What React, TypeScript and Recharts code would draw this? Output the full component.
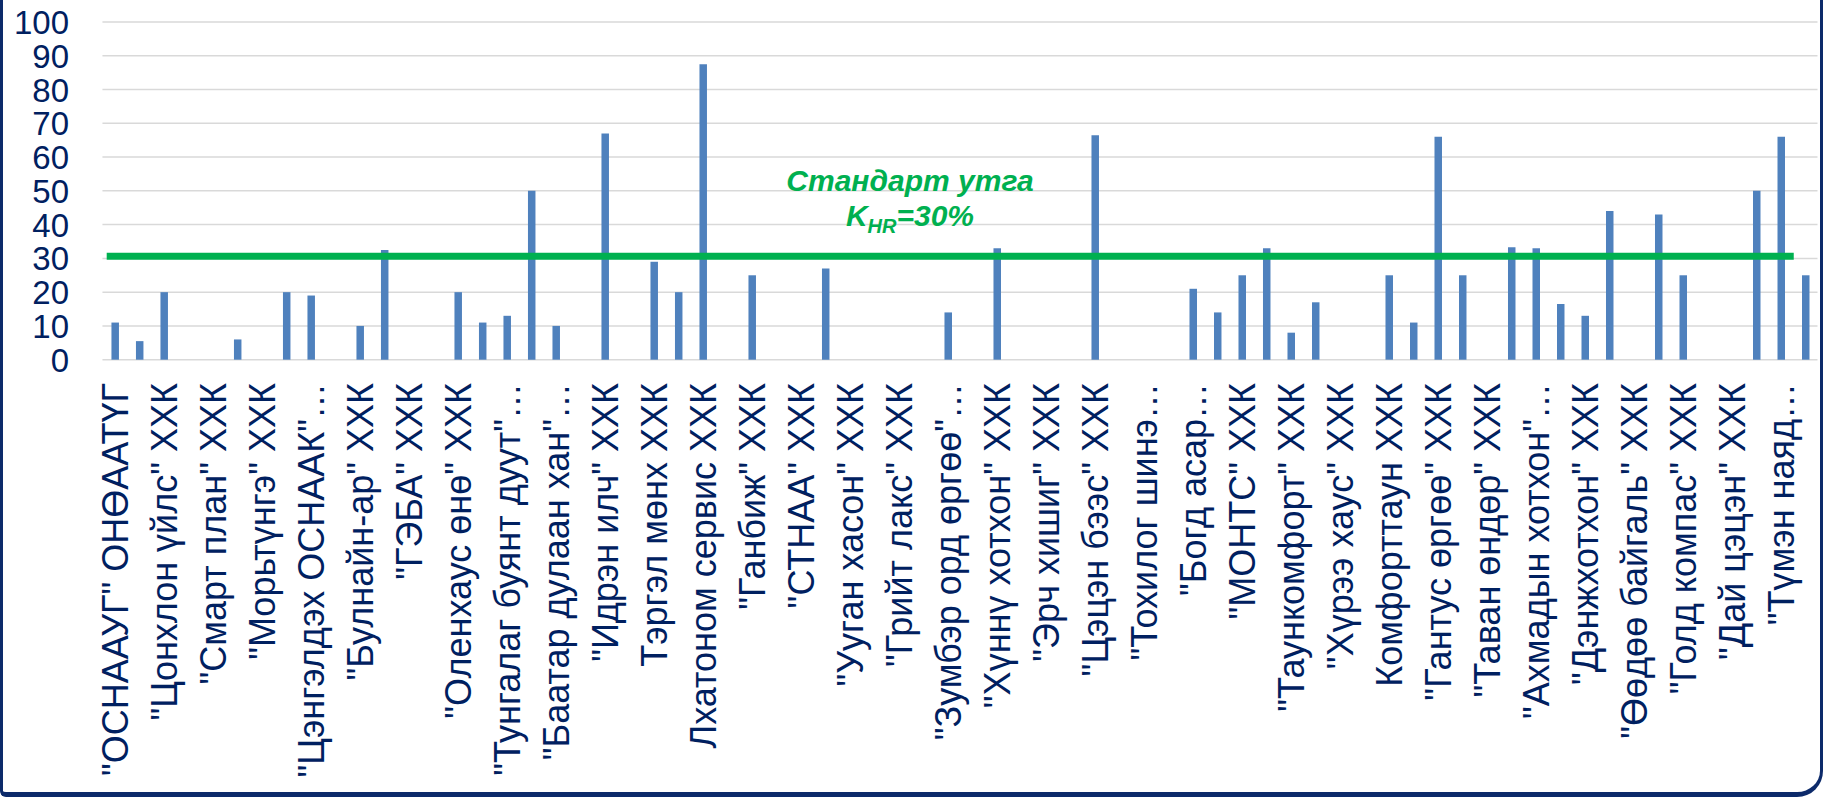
import { BarChart, Bar, XAxis, YAxis, CartesianGrid, ReferenceLine } from "recharts";

// visible axis labels (every second category carries one)
const labels = [
  "\"ОСНААУГ\" ОНӨААТҮГ",
  "\"Цонхлон үйлс\" ХХК",
  "\"Смарт план\" ХХК",
  "\"Морьтүнгэ\" ХХК",
  "\"Цэнгэлдэх ОСНААК\"…",
  "\"Булнайн-ар\" ХХК",
  "\"ГЭБА\" ХХК",
  "\"Оленхаус өнө\" ХХК",
  "\"Тунгалаг буянт дуут\"…",
  "\"Баатар дулаан хан\"…",
  "\"Идрэн илч\" ХХК",
  "Тэргэл мөнх ХХК",
  "Лхатоном сервис ХХК",
  "\"Ганбиж\" ХХК",
  "\"СТНАА\" ХХК",
  "\"Ууган хасон\" ХХК",
  "\"Грийт лакс\" ХХК",
  "\"Зумбэр орд өргөө\"…",
  "\"Хүннү хотхон\" ХХК",
  "\"Эрч хишиг\" ХХК",
  "\"Цэцэн бээс\" ХХК",
  "\"Тохилог шинэ…",
  "\"Богд асар…",
  "\"МОНТС\" ХХК",
  "\"Таункомфорт\" ХХК",
  "\"Хүрээ хаус\" ХХК",
  "Комфорттаун ХХК",
  "\"Гантус өргөө\" ХХК",
  "\"Таван өндөр\" ХХК",
  "\"Ахмадын хотхон\"…",
  "\"Дэнжхотхон\" ХХК",
  "\"Өөдөө байгаль\" ХХК",
  "\"Голд компас\" ХХК",
  "\"Дай цэцэн\" ХХК",
  "\"Түмэн наяд…",
];

// K_HR values, %, one per company (70)
const values = [
  11, 5.5, 20, 0, 0, 6, 0, 20, 19, 0,
  10, 32.5, 0, 0, 20, 11, 13, 50, 10, 0,
  67, 0, 29, 20, 87.5, 0, 25, 0, 0, 27,
  0, 0, 0, 0, 14, 0, 33, 0, 0, 0,
  66.5, 0, 0, 0, 21, 14, 25, 33, 8, 17,
  0, 0, 25, 11, 66, 25, 0, 33.3, 33, 16.5,
  13, 44, 0, 43, 25, 0, 0, 50, 66, 25,
];

const yTicks = [0, 10, 20, 30, 40, 50, 60, 70, 80, 90, 100];
const standard = 30.6;

const data = values.map((v, i) => ({
  key: String(i),
  label: i % 2 === 0 ? labels[i / 2] : "",
  value: v,
}));

const NAVY = "#002060";
const FONT = '"Liberation Sans", Arial, sans-serif';

function YTick(props: any) {
  const { y, payload } = props;
  return (
    <text x={69} y={y + 12} textAnchor="end" fontSize={33} fill={NAVY} fontFamily={FONT}>
      {payload.value}
    </text>
  );
}

function XTick(props: any) {
  const { x, payload } = props;
  const i = Number(payload.value);
  if (i % 2 !== 0) return null;
  const px = x + 13;
  const py = 383;
  return (
    <text
      x={px}
      y={py}
      transform={`rotate(-90, ${px}, ${py})`}
      textAnchor="end"
      fontSize={36}
      fill={NAVY}
      fontFamily={FONT}
    >
      {data[i].label}
    </text>
  );
}

// the standard line overhangs the first and last labelled bars a little
function StandardLine(props: any) {
  const { x1, y1, x2, y2 } = props;
  return (
    <line x1={x1 - 8} y1={y1} x2={x2 + 13} y2={y2} stroke="#00B050" strokeWidth={7} />
  );
}

export default function App() {
  return (
    <div
      style={{
        position: "absolute",
        left: 0,
        top: 0,
        width: 1823,
        height: 797,
        overflow: "hidden",
        background: "#fff",
        fontFamily: FONT,
      }}
    >
      <BarChart
        width={1823}
        height={797}
        data={data}
        margin={{ top: 22, right: 5.5, left: 0, bottom: 0 }}
      >
        <CartesianGrid vertical={false} stroke="#D9D9D9" strokeWidth={1.5} />
        <XAxis
          dataKey="key"
          interval={0}
          height={437.3}
          axisLine={false}
          tickLine={false}
          tick={<XTick />}
        />
        <YAxis
          width={102.45}
          domain={[0, 100]}
          ticks={yTicks}
          axisLine={false}
          tickLine={false}
          tick={<YTick />}
        />
        <Bar dataKey="value" fill="#4F81BD" barSize={7.5} isAnimationActive={false} />
        <ReferenceLine
          segment={[
            { x: "0", y: standard },
            { x: "68", y: standard },
          ]}
          stroke="#00B050"
          strokeWidth={7}
          shape={<StandardLine />}
        />
      </BarChart>

      <svg
        width={1823}
        height={797}
        style={{ position: "absolute", left: 0, top: 0, pointerEvents: "none" }}
      >
        <text
          x={910}
          y={190.5}
          textAnchor="middle"
          fontSize={30}
          fontWeight="bold"
          fontStyle="italic"
          fill="#00B050"
          fontFamily={FONT}
        >
          Стандарт утга
        </text>
        <text
          x={910}
          y={225.5}
          textAnchor="middle"
          fontSize={30}
          fontWeight="bold"
          fontStyle="italic"
          fill="#00B050"
          fontFamily={FONT}
        >
          K
          <tspan fontSize={20} dy={7}>
            HR
          </tspan>
          <tspan dy={-7}>=30%</tspan>
        </text>
      </svg>

      <div
        style={{
          position: "absolute",
          left: 0,
          top: -60,
          width: 1823,
          height: 857,
          boxSizing: "border-box",
          borderLeft: "3px solid #0C2A6A",
          borderRight: "3px solid #0C2A6A",
          borderBottom: "5px solid #0C2A6A",
          borderRadius: "0 0 26px 6px",
          pointerEvents: "none",
        }}
      />
    </div>
  );
}
